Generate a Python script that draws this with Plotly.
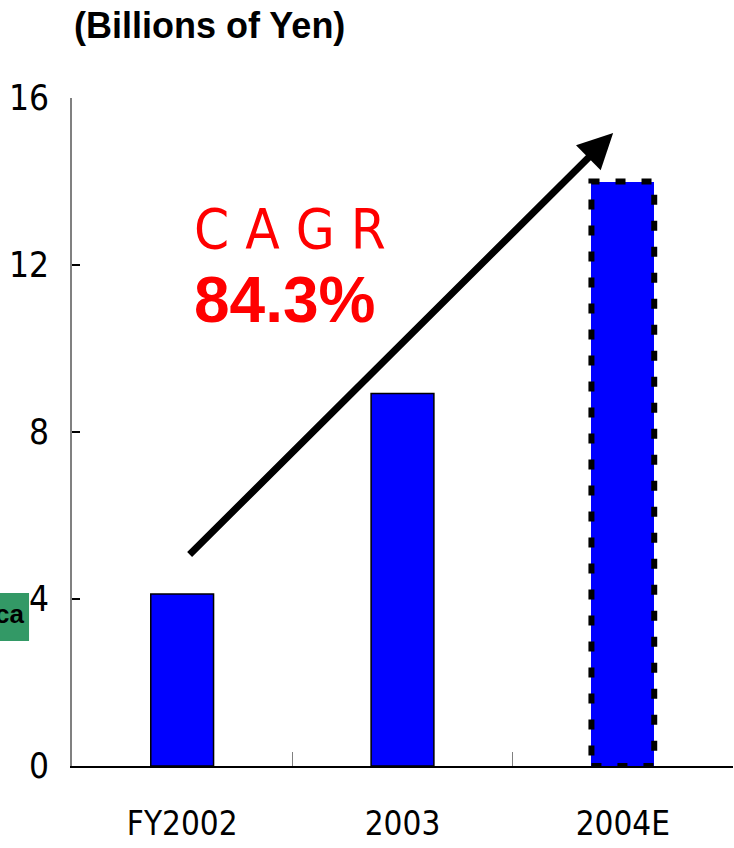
import plotly.graph_objects as go

categories = ["FY2002", "2003", "2004E"]
values = [4.12, 8.92, 14.0]
y_ticks = [0, 4, 8, 12, 16]
title_text = "(Billions of Yen)"
cagr_label = "C A G R"
cagr_value = "84.3%"
side_tag = "ca"

BAR_W = 0.285
NARROW = "DejaVu Sans Condensed, Liberation Sans Narrow, sans-serif"
BOLD = "Liberation Sans, Arial, sans-serif"

fig = go.Figure()
fig.add_trace(go.Bar(
    x=categories[:2], y=values[:2], width=BAR_W,
    marker=dict(color="#0000FF", line=dict(color="black", width=1.5)),
    hoverinfo="skip", showlegend=False,
))
fig.add_trace(go.Bar(
    x=categories[2:], y=values[2:], width=BAR_W,
    marker=dict(color="#0000FF", line=dict(width=0)),
    hoverinfo="skip", showlegend=False,
))

# dashed border around the estimate bar
fig.add_shape(type="rect", xref="x", yref="y",
              x0=2 - BAR_W / 2, x1=2 + BAR_W / 2, y0=0, y1=values[2],
              line=dict(color="black", width=6, dash="10px,16px"),
              fillcolor="rgba(0,0,0,0)", layer="above")

# growth arrow
fig.add_annotation(xref="x", yref="y", axref="x", ayref="y",
                   x=1.956, y=15.16, ax=0.027, ay=5.03, text="",
                   showarrow=True, arrowhead=2, arrowsize=1, arrowwidth=7,
                   arrowcolor="black")

fig.add_annotation(xref="paper", yref="paper", x=0.33, y=0.805, text=cagr_label,
                   showarrow=False, xanchor="center", yanchor="middle",
                   font=dict(family=NARROW, size=56, color="#FF0000"))
fig.add_annotation(xref="paper", yref="paper", x=0.322, y=0.698,
                   text="<b>" + cagr_value + "</b>",
                   showarrow=False, xanchor="center", yanchor="middle",
                   font=dict(family=BOLD, size=64, color="#FF0000"))

# title
fig.add_annotation(xref="paper", yref="paper", x=0, y=1.108,
                   text="<b>" + title_text + "</b>", showarrow=False,
                   xanchor="left", yanchor="middle",
                   font=dict(family=BOLD, size=36, color="black"))

# cropped green tag at left
fig.add_shape(type="rect", xref="paper", yref="paper",
              x0=-0.115, x1=-0.065, y0=0.187, y1=0.259,
              fillcolor="#339966", line=dict(width=0), layer="above")
fig.add_annotation(xref="paper", yref="paper", x=-0.0696, y=0.2275,
                   text="<b>" + side_tag + "</b>", showarrow=False,
                   xanchor="right", yanchor="middle",
                   font=dict(family=BOLD, size=26, color="black"))

fig.update_layout(
    width=734, height=848, autosize=False,
    margin=dict(l=72, r=1, t=98, b=82),
    plot_bgcolor="white", paper_bgcolor="white",
    bargap=0,
    xaxis=dict(
        range=[-0.5, 2.5], showline=True, linecolor="black", linewidth=2,
        ticks="inside", tickson="boundaries", ticklen=14, tickwidth=1.5,
        tickcolor="#808080", showgrid=False, zeroline=False,
        tickfont=dict(family=NARROW, size=33, color="black"),
        ticklabelstandoff=27, fixedrange=True,
    ),
    yaxis=dict(
        range=[0, 16], tickvals=y_ticks, showline=True, linecolor="#808080",
        linewidth=2, ticks="inside", ticklen=8, tickwidth=2, tickcolor="black",
        showgrid=False, zeroline=False,
        tickfont=dict(family=NARROW, size=35, color="black"),
        ticklabelstandoff=14, fixedrange=True,
    ),
)

fig.write_html("out.html", config={"staticPlot": True},
               post_script="document.body.style.margin='0';")
